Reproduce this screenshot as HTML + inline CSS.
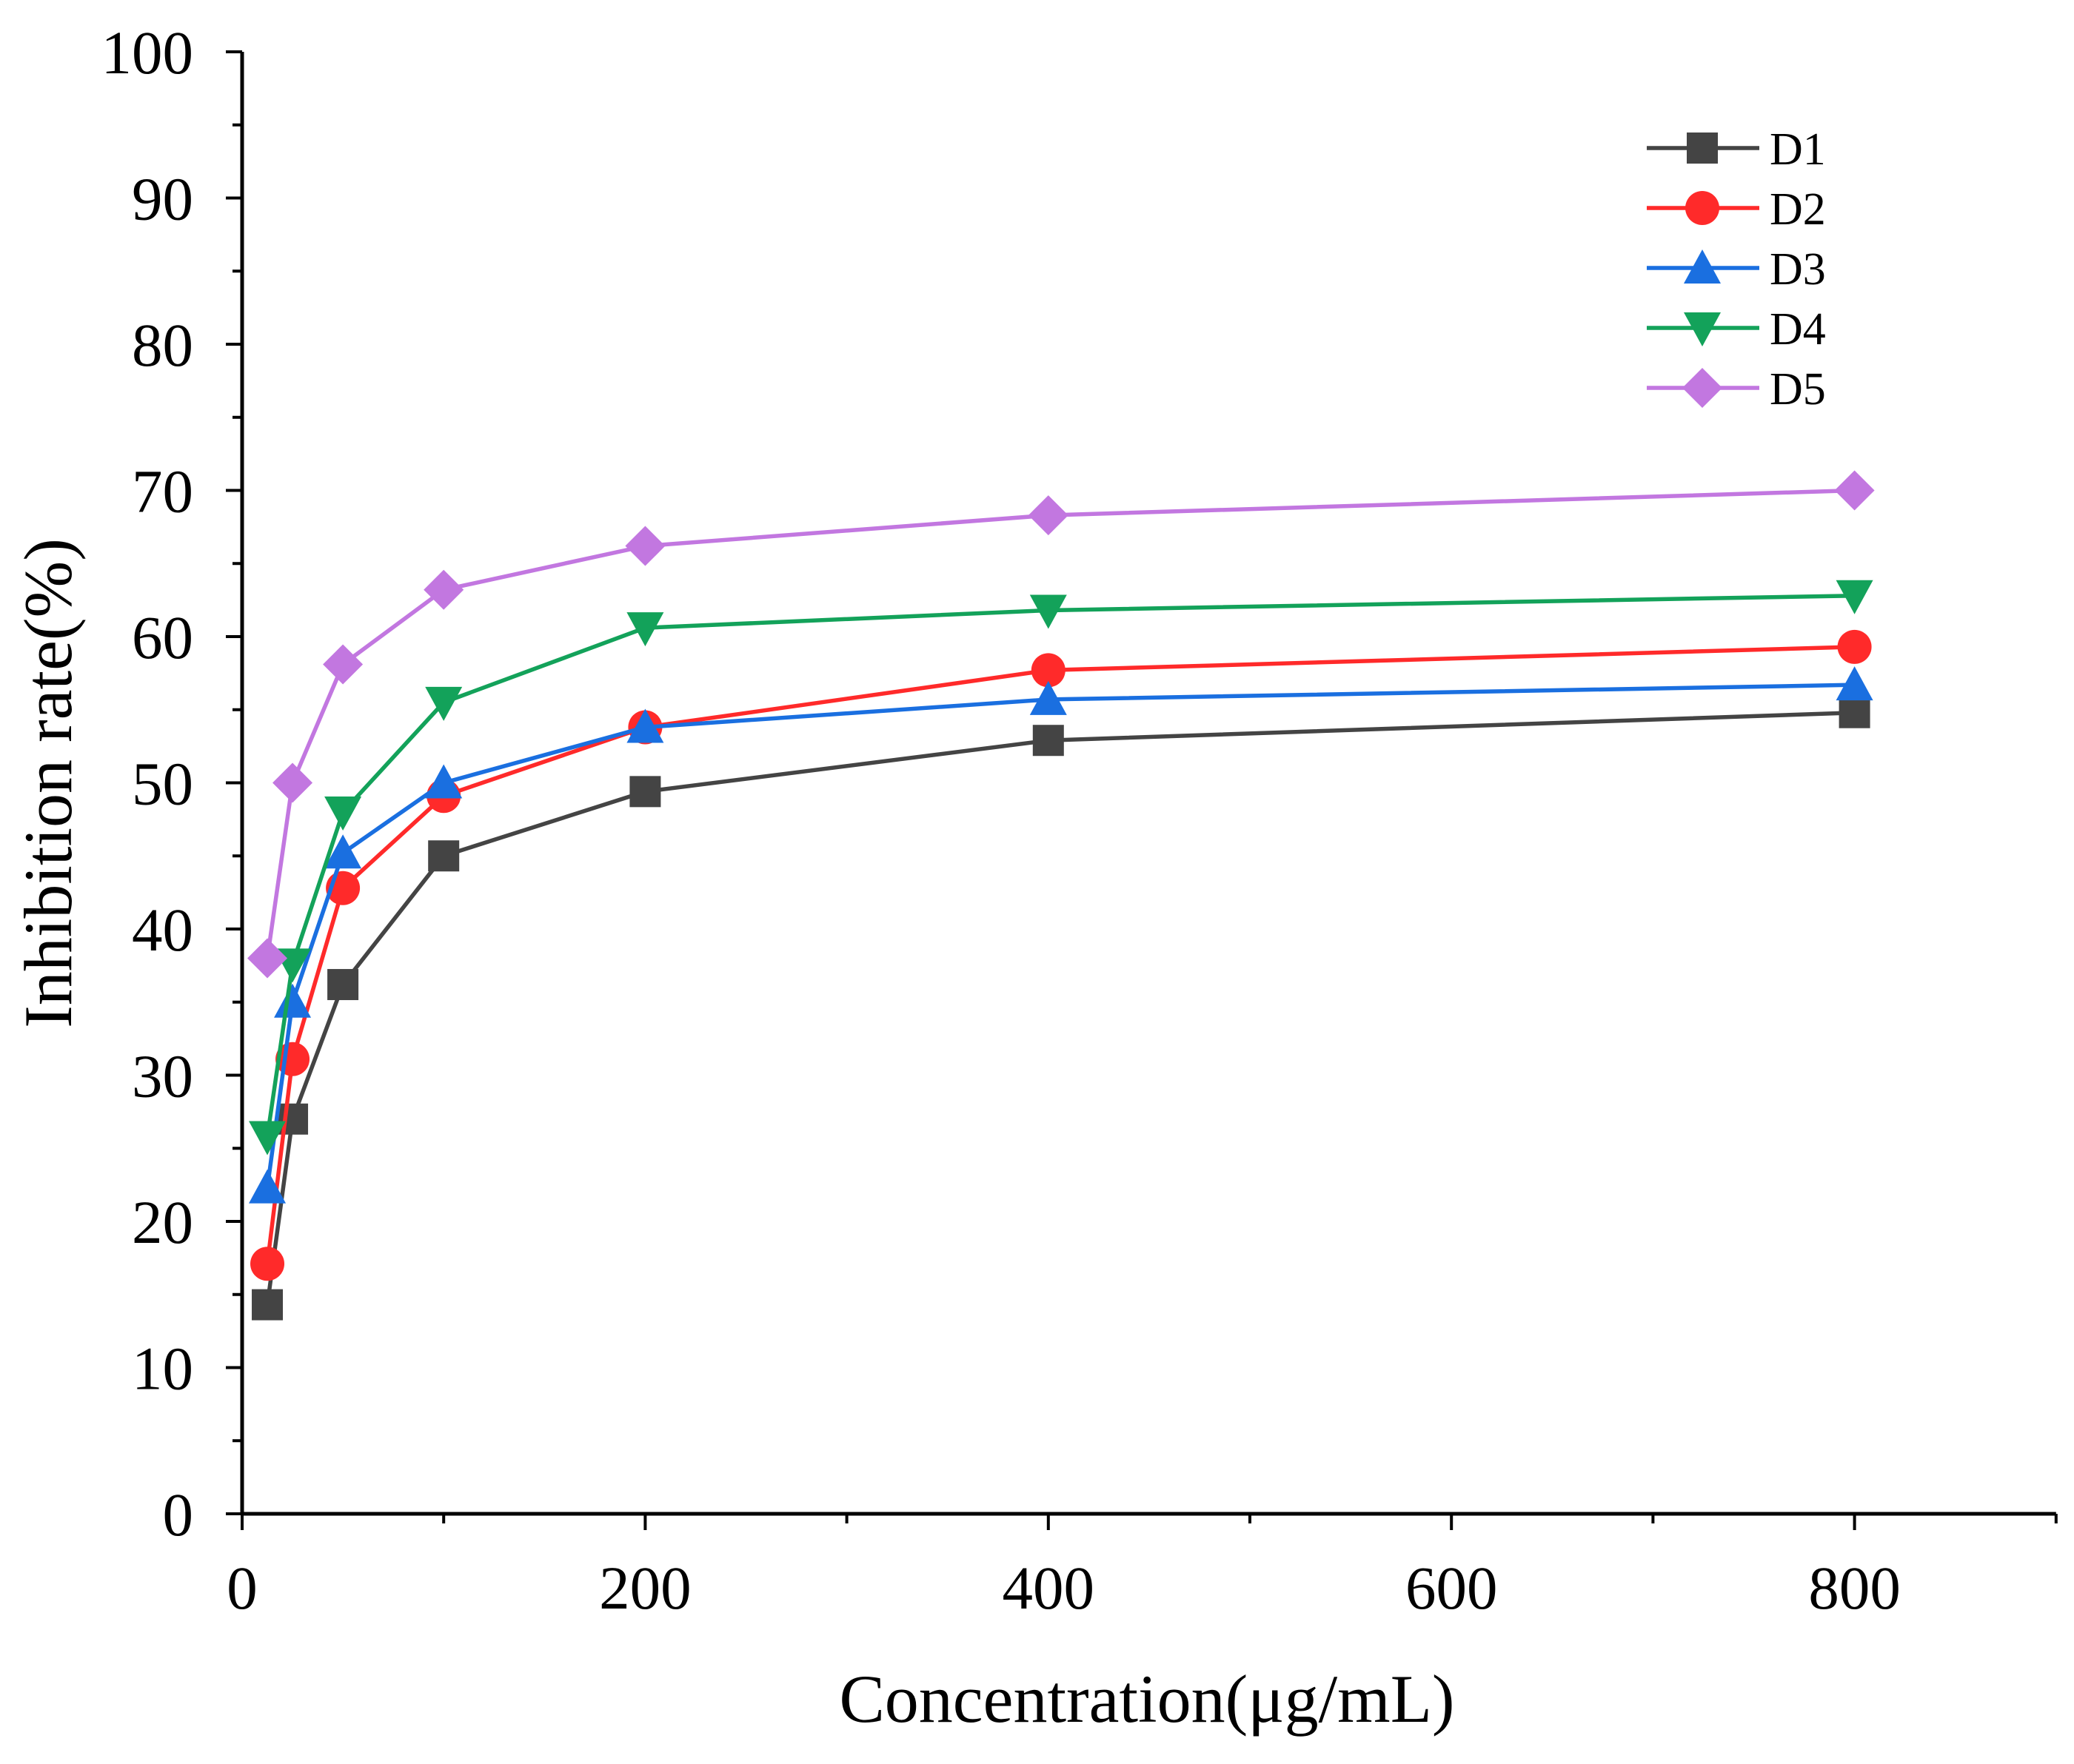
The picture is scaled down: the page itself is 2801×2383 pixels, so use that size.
<!DOCTYPE html>
<html><head><meta charset="utf-8"><style>
html,body{margin:0;padding:0;background:#fff;}
svg{display:block;font-family:"Liberation Serif",serif;}
</style></head><body>
<svg id="chart" width="2801" height="2383" viewBox="0 0 2801 2383" xmlns="http://www.w3.org/2000/svg">
<g id="axes"></g><g id="series"></g><g id="legend"></g>
<text x="1549" y="2326" font-size="92" text-anchor="middle">Concentration(μg/mL)</text>
<text transform="translate(96,1058) rotate(-90)" font-size="92" text-anchor="middle">Inhibition rate(%)</text>
</svg>
<script>
const xValues=[12.5,25,50,100,200,400,800];
const seriesNames=["D1","D2","D3","D4","D5"];
const d1=[14.3,27,36.2,45,49.4,52.9,54.8];
const d2=[17.1,31.1,42.8,49.1,53.8,57.7,59.3];
const d3=[22.3,35,45.2,50,53.8,55.7,56.7];
const d4=[25.8,37.6,48,55.5,60.6,61.8,62.8];
const d5=[38,50,58.1,63.2,66.2,68.3,70];
const xTicks=[0,200,400,600,800];
const yTicks=[0,10,20,30,40,50,60,70,80,90,100];
const NS="http://www.w3.org/2000/svg";
const X0=327,XK=2.722,Y0=2045,Y100=70;
const sx=v=>X0+v*XK, sy=v=>Y0-(Y0-Y100)*v/100;
function mk(p,t,a){const e=document.createElementNS(NS,t);for(const k in a)e.setAttribute(k,a[k]);p.appendChild(e);return e;}
const ax=document.getElementById('axes');
let l=mk(ax,'line',{x1:X0,y1:Y0,x2:sx(900),y2:Y0,stroke:'#000','stroke-width':5});


l=mk(ax,'line',{x1:X0,y1:Y0+2,x2:X0,y2:Y100,stroke:'#000','stroke-width':5});


for(let v=0;v<=900;v+=100){const maj=v%200==0;mk(ax,'line',{x1:sx(v),y1:Y0,x2:sx(v),y2:Y0+(maj?22:13),stroke:'#000','stroke-width':4});}
for(let v=0;v<=100;v+=5){const maj=v%10==0;mk(ax,'line',{x1:X0,y1:sy(v),x2:X0-(maj?22:13),y2:sy(v),stroke:'#000','stroke-width':4});}
xTicks.forEach(v=>{const t=mk(ax,'text',{x:sx(v),y:Y0+128,'font-size':83,'text-anchor':'middle'});t.textContent=v;

});
yTicks.forEach(v=>{const t=mk(ax,'text',{x:X0-66,y:sy(v)+29,'font-size':83,'text-anchor':'end'});t.textContent=v;

});
const colors=["#444444","#ff2a2a","#1a6fe0","#13a25a","#c277e0"];
const shapes=["square","circle","up","down","diamond"];
function marker(p,s,x,y,c){const r=21;let e;
if(s=='square')e=mk(p,'rect',{x:x-r,y:y-r,width:2*r,height:2*r,fill:c});
else if(s=='circle')e=mk(p,'circle',{cx:x,cy:y,r:r+2,fill:c});
else if(s=='up')e=mk(p,'polygon',{points:`${x},${y-r-4} ${x-r-4},${y+r} ${x+r+4},${y+r}`,fill:c});
else if(s=='down')e=mk(p,'polygon',{points:`${x},${y+r+4} ${x-r-4},${y-r} ${x+r+4},${y-r}`,fill:c});
else e=mk(p,'polygon',{points:`${x},${y-r-6} ${x+r+6},${y} ${x},${y+r+6} ${x-r-6},${y}`,fill:c});
return e;}
const data=[d1,d2,d3,d4,d5];
const sg=document.getElementById('series');
data.forEach((d,i)=>{const g=mk(sg,'g',{});


mk(g,'polyline',{points:d.map((v,j)=>sx(xValues[j])+','+sy(v)).join(' '),fill:'none',stroke:colors[i],'stroke-width':5.5});
d.forEach((v,j)=>{const m=marker(g,shapes[i],sx(xValues[j]),sy(v),colors[i]);

});});
const lg=document.getElementById('legend');
seriesNames.forEach((n,i)=>{const y=200+i*81;const g=mk(lg,'g',{});


mk(g,'line',{x1:2224,y1:y,x2:2376,y2:y,stroke:colors[i],'stroke-width':5.5});
marker(g,shapes[i],2299,y,colors[i]);
const t=mk(g,'text',{x:2390,y:y+22,'font-size':62});t.textContent=n;});
</script>
</body></html>
